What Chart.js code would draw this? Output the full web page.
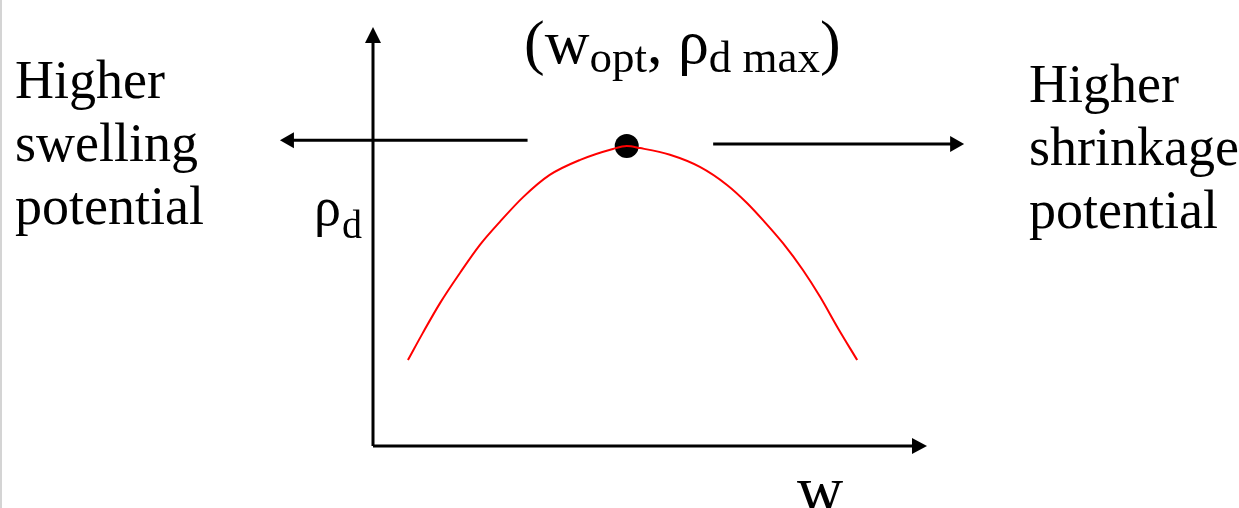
<!DOCTYPE html>
<html>
<head>
<meta charset="utf-8">
<script src="https://cdn.jsdelivr.net/npm/chart.js@4"></script>
<style>
  html, body { margin: 0; padding: 0; background: #fff; }
  canvas { display: block; }
</style>
</head>
<body>
<canvas id="curveChart" width="1239" height="508"></canvas>
<script>
// compaction curve (w on x, rho_d on y, arbitrary units)
var wValues   = [0.63, 0.90, 1.21, 1.57, 1.93, 2.29, 2.71, 3.19, 3.74, 4.33, 4.58, 4.82, 5.36, 5.90, 6.39, 6.75, 7.04, 7.40, 7.76, 8.07, 8.38, 8.74];
var rhoValues = [2.05, 2.70, 3.41, 4.13, 4.80, 5.35, 5.94, 6.47, 6.83, 7.09, 7.16, 7.11, 6.95, 6.66, 6.23, 5.80, 5.39, 4.84, 4.20, 3.56, 2.84, 2.05];
var optimum   = [4.58, 7.16];
// the two side arrows: [fromX, toX, y]
var swellArrow  = [2.79, -1.68, 7.30];
var shrinkArrow = [6.14, 10.67, 7.21];
var leftLines  = ['Higher', 'swelling', 'potential'];
var rightLines = ['Higher', 'shrinkage', 'potential'];

var curvePoints = wValues.map(function (w, i) { return { x: w, y: rhoValues[i] }; });

var SERIF = '"Liberation Serif", "Times New Roman", serif';

function arrowHead(c, x, y, dir, len, half) {
  // dir: 'l', 'r', 'u'
  c.beginPath();
  if (dir === 'l') { c.moveTo(x, y); c.lineTo(x + len, y - half); c.lineTo(x + len, y + half); }
  if (dir === 'r') { c.moveTo(x, y); c.lineTo(x - len, y - half); c.lineTo(x - len, y + half); }
  if (dir === 'u') { c.moveTo(x, y); c.lineTo(x - half, y + len); c.lineTo(x + half, y + len); }
  c.closePath();
  c.fill();
}

var sketchPlugin = {
  id: 'sketch',
  beforeDatasetsDraw: function (chart) {
    var c = chart.ctx, a = chart.chartArea;
    var xs = chart.scales.x, ys = chart.scales.y;
    c.save();
    // thin frame line at the left edge
    c.fillStyle = '#d4d4d4';
    c.fillRect(0, 0, 2, chart.height);

    c.strokeStyle = '#000';
    c.fillStyle = '#000';
    c.lineWidth = 3;
    // axes
    c.beginPath();
    c.moveTo(a.left, a.bottom);
    c.lineTo(a.left, a.top + 14);
    c.moveTo(a.left, a.bottom);
    c.lineTo(a.right - 14, a.bottom);
    c.stroke();
    arrowHead(c, a.left, a.top, 'u', 16, 8);
    arrowHead(c, a.right, a.bottom, 'r', 15, 8);

    // side arrows
    [swellArrow, shrinkArrow].forEach(function (ar) {
      var x0 = xs.getPixelForValue(ar[0]);
      var x1 = xs.getPixelForValue(ar[1]);
      var y = ys.getPixelForValue(ar[2]);
      var d = x1 < x0 ? 1 : -1;
      c.beginPath();
      c.moveTo(x0, y);
      c.lineTo(x1 + d * 12, y);
      c.stroke();
      arrowHead(c, x1, y, x1 < x0 ? 'l' : 'r', 14, 8);
    });

    // side texts
    c.font = '54px ' + SERIF;
    c.textAlign = 'left';
    c.textBaseline = 'alphabetic';
    leftLines.forEach(function (t, i) { c.fillText(t, 15, 98 + i * 63); });
    rightLines.forEach(function (t, i) { c.fillText(t, 1029, 102 + i * 63); });

    // axis labels
    c.font = '54px ' + SERIF;
    c.fillText('\u03c1', 314, 225);
    c.font = '40px ' + SERIF;
    c.fillText('d', 342, 238);
    c.font = '64px ' + SERIF;
    c.fillText('w', 797, 510);

    // top label (w_opt, rho_d max)
    var parts = [
      ['(', 62, 0], ['w', 62, 0], ['opt', 45, 9], [',', 62, 0], [' ', 62, 0],
      ['\u03c1', 62, 0], ['d max', 45, 9], [')', 62, 0]
    ];
    var x = 524;
    parts.forEach(function (p) {
      c.font = p[1] + 'px ' + SERIF;
      c.fillText(p[0], x, 63 + p[2]);
      x += c.measureText(p[0]).width;
    });
    c.restore();
  }
};

var ctx = document.getElementById('curveChart').getContext('2d');
var curveChart = new Chart(ctx, {
  type: 'scatter',
  data: {
    datasets: [{
      data: curvePoints,
      showLine: true,
      borderColor: '#ff0000',
      borderWidth: 2,
      cubicInterpolationMode: 'monotone',
      pointRadius: 0,
      fill: false
    }, {
      data: [{ x: optimum[0], y: optimum[1] }],
      pointRadius: 12,
      pointBackgroundColor: '#000',
      pointBorderColor: '#000',
      pointBorderWidth: 0
    }]
  },
  options: {
    responsive: false,
    animation: false,
    layout: { padding: { left: 373, right: 312, top: 27, bottom: 62 } },
    plugins: {
      legend: { display: false },
      tooltip: { enabled: false }
    },
    scales: {
      x: { type: 'linear', min: 0, max: 10, display: false },
      y: { type: 'linear', min: 0, max: 10, display: false }
    }
  },
  plugins: [sketchPlugin]
});
</script>
</body>
</html>
